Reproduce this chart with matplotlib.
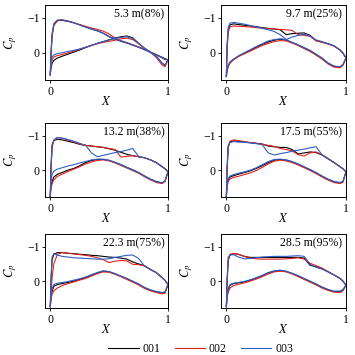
import numpy as np
import matplotlib
matplotlib.use('Agg')
import matplotlib.pyplot as plt

# chordwise positions shared by every curve
x_grid = [0, 0.005, 0.015, 0.03, 0.06, 0.1, 0.15, 0.2, 0.25, 0.3, 0.35, 0.4, 0.45,
          0.5, 0.55, 0.6, 0.65, 0.7, 0.75, 0.8, 0.85, 0.9, 0.95, 0.975, 1.0]

titles = ['5.3 m(8%)', '9.7 m(25%)', '13.2 m(38%)', '17.5 m(55%)', '22.3 m(75%)', '28.5 m(95%)']
cases = ['001', '002', '003']

# 5.3 m
p1_up_001 = [0.63, 0.1, -0.5, -0.8, -0.92, -0.93, -0.9, -0.86, -0.8, -0.74, -0.68, -0.63, -0.56, -0.46, -0.39, -0.33, -0.28, -0.22, -0.16, -0.09, -0.02, 0.05, 0.13, 0.17, 0.2]
p1_up_002 = [0.63, 0.15, -0.45, -0.78, -0.92, -0.94, -0.91, -0.86, -0.81, -0.76, -0.71, -0.67, -0.62, -0.54, -0.42, -0.35, -0.29, -0.23, -0.17, -0.1, -0.02, 0.06, 0.15, 0.2, 0.2]
p1_up_003 = [0.63, 0.05, -0.55, -0.84, -0.94, -0.95, -0.91, -0.86, -0.8, -0.74, -0.68, -0.63, -0.56, -0.47, -0.4, -0.34, -0.29, -0.23, -0.16, -0.09, -0.01, 0.06, 0.14, 0.18, 0.2]
p1_lo_001 = [0.63, 0.45, 0.3, 0.22, 0.15, 0.1, 0.04, -0.02, -0.08, -0.15, -0.21, -0.27, -0.32, -0.37, -0.42, -0.46, -0.48, -0.43, -0.27, -0.13, -0.02, 0.1, 0.3, 0.36, 0.2]
p1_lo_002 = [0.63, 0.4, 0.2, 0.12, 0.08, 0.05, 0.0, -0.05, -0.1, -0.16, -0.21, -0.26, -0.3, -0.33, -0.36, -0.4, -0.42, -0.38, -0.26, -0.13, -0.01, 0.13, 0.35, 0.4, 0.2]
p1_lo_003 = [0.63, 0.3, 0.12, 0.06, 0.02, 0.0, -0.04, -0.07, -0.11, -0.16, -0.22, -0.27, -0.32, -0.37, -0.41, -0.44, -0.46, -0.41, -0.27, -0.13, -0.02, 0.1, 0.3, 0.35, 0.2]

# 9.7 m
p2_up_001 = [0.68, -0.1, -0.66, -0.8, -0.83, -0.81, -0.79, -0.77, -0.75, -0.72, -0.7, -0.68, -0.66, -0.52, -0.55, -0.56, -0.57, -0.5, -0.35, -0.31, -0.26, -0.2, -0.08, 0.01, 0.15]
p2_up_002 = [0.68, 0.0, -0.6, -0.74, -0.77, -0.76, -0.75, -0.74, -0.72, -0.71, -0.69, -0.68, -0.67, -0.66, -0.64, -0.52, -0.5, -0.47, -0.34, -0.3, -0.25, -0.19, -0.08, 0.01, 0.15]
p2_up_003 = [0.68, -0.2, -0.72, -0.85, -0.87, -0.85, -0.82, -0.78, -0.74, -0.7, -0.66, -0.61, -0.52, -0.38, -0.45, -0.5, -0.53, -0.48, -0.37, -0.32, -0.26, -0.2, -0.08, 0.01, 0.15]
p2_lo_001 = [0.68, 0.5, 0.38, 0.28, 0.19, 0.1, 0.01, -0.07, -0.16, -0.24, -0.31, -0.36, -0.39, -0.36, -0.29, -0.22, -0.14, -0.06, 0.05, 0.16, 0.3, 0.39, 0.41, 0.34, 0.15]
p2_lo_002 = [0.68, 0.52, 0.4, 0.3, 0.2, 0.11, 0.03, -0.05, -0.13, -0.21, -0.27, -0.32, -0.35, -0.34, -0.28, -0.21, -0.12, -0.04, 0.07, 0.18, 0.32, 0.41, 0.43, 0.36, 0.15]
p2_lo_003 = [0.68, 0.48, 0.36, 0.26, 0.18, 0.09, 0.0, -0.09, -0.18, -0.26, -0.34, -0.38, -0.4, -0.38, -0.3, -0.23, -0.15, -0.07, 0.04, 0.15, 0.29, 0.38, 0.4, 0.33, 0.15]

# 13.2 m
p3_up_001 = [0.76, 0.0, -0.72, -0.86, -0.9, -0.88, -0.84, -0.8, -0.75, -0.72, -0.7, -0.68, -0.66, -0.62, -0.58, -0.52, -0.46, -0.42, -0.39, -0.36, -0.3, -0.22, -0.1, -0.04, 0.05]
p3_up_002 = [0.76, 0.1, -0.65, -0.86, -0.95, -0.93, -0.88, -0.82, -0.76, -0.72, -0.7, -0.68, -0.66, -0.63, -0.6, -0.38, -0.4, -0.42, -0.39, -0.36, -0.3, -0.22, -0.1, -0.04, 0.05]
p3_up_003 = [0.76, 0.0, -0.72, -0.88, -0.95, -0.93, -0.89, -0.84, -0.78, -0.72, -0.5, -0.39, -0.43, -0.47, -0.51, -0.54, -0.58, -0.63, -0.4, -0.36, -0.3, -0.22, -0.1, -0.04, 0.05]
p3_lo_001 = [0.76, 0.5, 0.33, 0.2, 0.12, 0.07, 0.0, -0.05, -0.13, -0.22, -0.28, -0.31, -0.31, -0.28, -0.22, -0.16, -0.08, -0.01, 0.07, 0.17, 0.26, 0.33, 0.37, 0.31, 0.05]
p3_lo_002 = [0.76, 0.55, 0.4, 0.28, 0.18, 0.12, 0.04, -0.03, -0.1, -0.18, -0.24, -0.28, -0.3, -0.27, -0.21, -0.14, -0.06, 0.01, 0.09, 0.19, 0.28, 0.36, 0.39, 0.33, 0.05]
p3_lo_003 = [0.76, 0.35, 0.12, 0.03, -0.03, -0.07, -0.12, -0.16, -0.21, -0.25, -0.3, -0.32, -0.32, -0.29, -0.23, -0.16, -0.08, -0.01, 0.07, 0.17, 0.26, 0.34, 0.37, 0.31, 0.05]

# 17.5 m
p4_up_001 = [0.76, 0.0, -0.7, -0.82, -0.85, -0.83, -0.82, -0.8, -0.78, -0.76, -0.7, -0.68, -0.66, -0.66, -0.6, -0.47, -0.5, -0.53, -0.51, -0.44, -0.33, -0.22, -0.1, -0.04, 0.05]
p4_up_002 = [0.76, 0.1, -0.65, -0.84, -0.88, -0.86, -0.83, -0.8, -0.78, -0.75, -0.72, -0.69, -0.63, -0.6, -0.56, -0.45, -0.41, -0.5, -0.53, -0.45, -0.34, -0.22, -0.1, -0.04, 0.05]
p4_up_003 = [0.76, 0.0, -0.68, -0.8, -0.83, -0.82, -0.81, -0.79, -0.77, -0.74, -0.5, -0.44, -0.48, -0.51, -0.55, -0.58, -0.61, -0.65, -0.68, -0.44, -0.33, -0.22, -0.1, -0.04, 0.05]
p4_lo_001 = [0.76, 0.45, 0.28, 0.2, 0.16, 0.12, 0.07, 0.02, -0.05, -0.13, -0.22, -0.29, -0.31, -0.29, -0.24, -0.17, -0.09, -0.01, 0.08, 0.18, 0.27, 0.34, 0.37, 0.33, 0.05]
p4_lo_002 = [0.76, 0.5, 0.33, 0.26, 0.21, 0.18, 0.13, 0.08, 0.01, -0.08, -0.18, -0.26, -0.29, -0.27, -0.22, -0.15, -0.07, 0.01, 0.1, 0.2, 0.29, 0.36, 0.39, 0.35, 0.05]
p4_lo_003 = [0.76, 0.42, 0.25, 0.17, 0.13, 0.09, 0.05, 0.0, -0.07, -0.16, -0.25, -0.31, -0.32, -0.3, -0.25, -0.18, -0.1, -0.02, 0.07, 0.17, 0.26, 0.33, 0.36, 0.32, 0.05]

# 22.3 m
p5_up_001 = [0.74, 0.1, -0.62, -0.78, -0.83, -0.83, -0.81, -0.8, -0.78, -0.77, -0.75, -0.74, -0.72, -0.7, -0.69, -0.67, -0.64, -0.56, -0.5, -0.45, -0.34, -0.25, -0.1, -0.02, 0.1]
p5_up_002 = [0.74, 0.4, -0.1, -0.5, -0.78, -0.83, -0.81, -0.79, -0.77, -0.75, -0.72, -0.68, -0.62, -0.54, -0.58, -0.6, -0.59, -0.49, -0.48, -0.44, -0.34, -0.25, -0.1, -0.02, 0.1]
p5_up_003 = [0.74, 0.0, -0.7, -0.8, -0.76, -0.72, -0.7, -0.68, -0.67, -0.66, -0.65, -0.64, -0.64, -0.65, -0.69, -0.72, -0.75, -0.76, -0.66, -0.44, -0.34, -0.25, -0.1, -0.02, 0.1]
p5_lo_001 = [0.74, 0.5, 0.3, 0.15, 0.1, 0.07, 0.04, 0.0, -0.05, -0.1, -0.17, -0.24, -0.29, -0.27, -0.21, -0.14, -0.07, 0.01, 0.09, 0.19, 0.26, 0.31, 0.34, 0.32, 0.1]
p5_lo_002 = [0.74, 0.55, 0.38, 0.28, 0.2, 0.13, 0.07, 0.02, -0.03, -0.08, -0.15, -0.22, -0.27, -0.26, -0.2, -0.13, -0.05, 0.03, 0.11, 0.21, 0.28, 0.33, 0.37, 0.35, 0.1]
p5_lo_003 = [0.74, 0.45, 0.22, 0.1, 0.06, 0.04, 0.01, -0.03, -0.07, -0.12, -0.19, -0.25, -0.3, -0.28, -0.22, -0.15, -0.08, 0.0, 0.08, 0.18, 0.25, 0.3, 0.33, 0.31, 0.1]

# 28.5 m
p6_up_001 = [0.74, 0.1, -0.6, -0.76, -0.8, -0.78, -0.72, -0.69, -0.69, -0.69, -0.69, -0.69, -0.69, -0.69, -0.69, -0.69, -0.67, -0.46, -0.42, -0.36, -0.27, -0.18, -0.08, 0.0, 0.12]
p6_up_002 = [0.74, 0.1, -0.6, -0.78, -0.81, -0.78, -0.72, -0.67, -0.65, -0.64, -0.64, -0.64, -0.64, -0.65, -0.66, -0.68, -0.64, -0.52, -0.45, -0.38, -0.28, -0.18, -0.08, 0.0, 0.12]
p6_up_003 = [0.74, 0.0, -0.7, -0.76, -0.77, -0.7, -0.65, -0.66, -0.68, -0.7, -0.71, -0.72, -0.72, -0.72, -0.73, -0.74, -0.72, -0.49, -0.4, -0.35, -0.27, -0.18, -0.08, 0.0, 0.12]
p6_lo_001 = [0.74, 0.45, 0.25, 0.12, 0.07, 0.05, 0.02, -0.03, -0.09, -0.16, -0.24, -0.29, -0.31, -0.28, -0.22, -0.15, -0.07, 0.01, 0.09, 0.18, 0.25, 0.3, 0.3, 0.25, 0.12]
p6_lo_002 = [0.74, 0.5, 0.32, 0.2, 0.13, 0.09, 0.05, 0.0, -0.06, -0.13, -0.21, -0.27, -0.29, -0.27, -0.21, -0.13, -0.05, 0.03, 0.11, 0.2, 0.27, 0.32, 0.33, 0.28, 0.12]
p6_lo_003 = [0.74, 0.42, 0.22, 0.1, 0.06, 0.04, 0.01, -0.04, -0.1, -0.17, -0.25, -0.3, -0.32, -0.29, -0.23, -0.16, -0.08, 0.0, 0.08, 0.17, 0.24, 0.29, 0.29, 0.24, 0.12]

upper = [
    [p1_up_001, p1_up_002, p1_up_003],
    [p2_up_001, p2_up_002, p2_up_003],
    [p3_up_001, p3_up_002, p3_up_003],
    [p4_up_001, p4_up_002, p4_up_003],
    [p5_up_001, p5_up_002, p5_up_003],
    [p6_up_001, p6_up_002, p6_up_003],
]
lower = [
    [p1_lo_001, p1_lo_002, p1_lo_003],
    [p2_lo_001, p2_lo_002, p2_lo_003],
    [p3_lo_001, p3_lo_002, p3_lo_003],
    [p4_lo_001, p4_lo_002, p4_lo_003],
    [p5_lo_001, p5_lo_002, p5_lo_003],
    [p6_lo_001, p6_lo_002, p6_lo_003],
]

colors = ['black', '#e3211c', '#2f5fc4']

plt.rcParams['font.family'] = ['Liberation Serif', 'DejaVu Serif']
plt.rcParams['mathtext.fontset'] = 'stix'
plt.rcParams['font.size'] = 8.5


def px_box(left, top, right, bottom, size=355.0):
    """Axes rectangle from pixel edges."""
    return [left / size, 1 - bottom / size, (right - left) / size, (bottom - top) / size]


def draw_panel(ax, idx):
    x = np.array(x_grid)
    for j, c in enumerate(colors):
        ax.plot(x, upper[idx][j], color=c, lw=0.8, label=cases[j])
        ax.plot(x, lower[idx][j], color=c, lw=0.8)
    ax.set_xlim(-0.045, 1.0)
    ax.set_ylim(0.78, -1.37)
    ax.set_xticks([0, 1])
    ax.set_yticks([-1, 0])
    ax.set_xticklabels(['0', '1'])
    ax.set_yticklabels(['\u22121', '0'])
    ax.tick_params(direction='out', length=2.5, width=0.6, pad=1.5, labelsize=8.5)
    for s in ax.spines.values():
        s.set_linewidth(0.7)
    ax.set_xlabel('$X$', fontsize=9, labelpad=-2)
    ax.set_ylabel('$C_p$', fontsize=9, labelpad=6)
    ax.text(0.97, 0.95, titles[idx], transform=ax.transAxes, ha='right', va='top', fontsize=8.5)


fig = plt.figure(figsize=(3.55, 3.55), dpi=100)
rows = [(5, 80), (123, 197), (234, 308)]
cols = [(45, 168), (221, 346)]
axes = []
for r, (top, bot) in enumerate(rows):
    for c, (left, right) in enumerate(cols):
        ax = fig.add_axes(px_box(left, top, right, bot))
        draw_panel(ax, r * 2 + c)
        axes.append(ax)

handles, labels = axes[0].get_legend_handles_labels()
fig.legend(handles, labels, loc='lower center', ncol=3, frameon=False,
           bbox_to_anchor=(0.565, -0.03), handlelength=2.6, handletextpad=0.3,
           columnspacing=1.2, fontsize=8.5)

fig.savefig('out.png', dpi=100)
